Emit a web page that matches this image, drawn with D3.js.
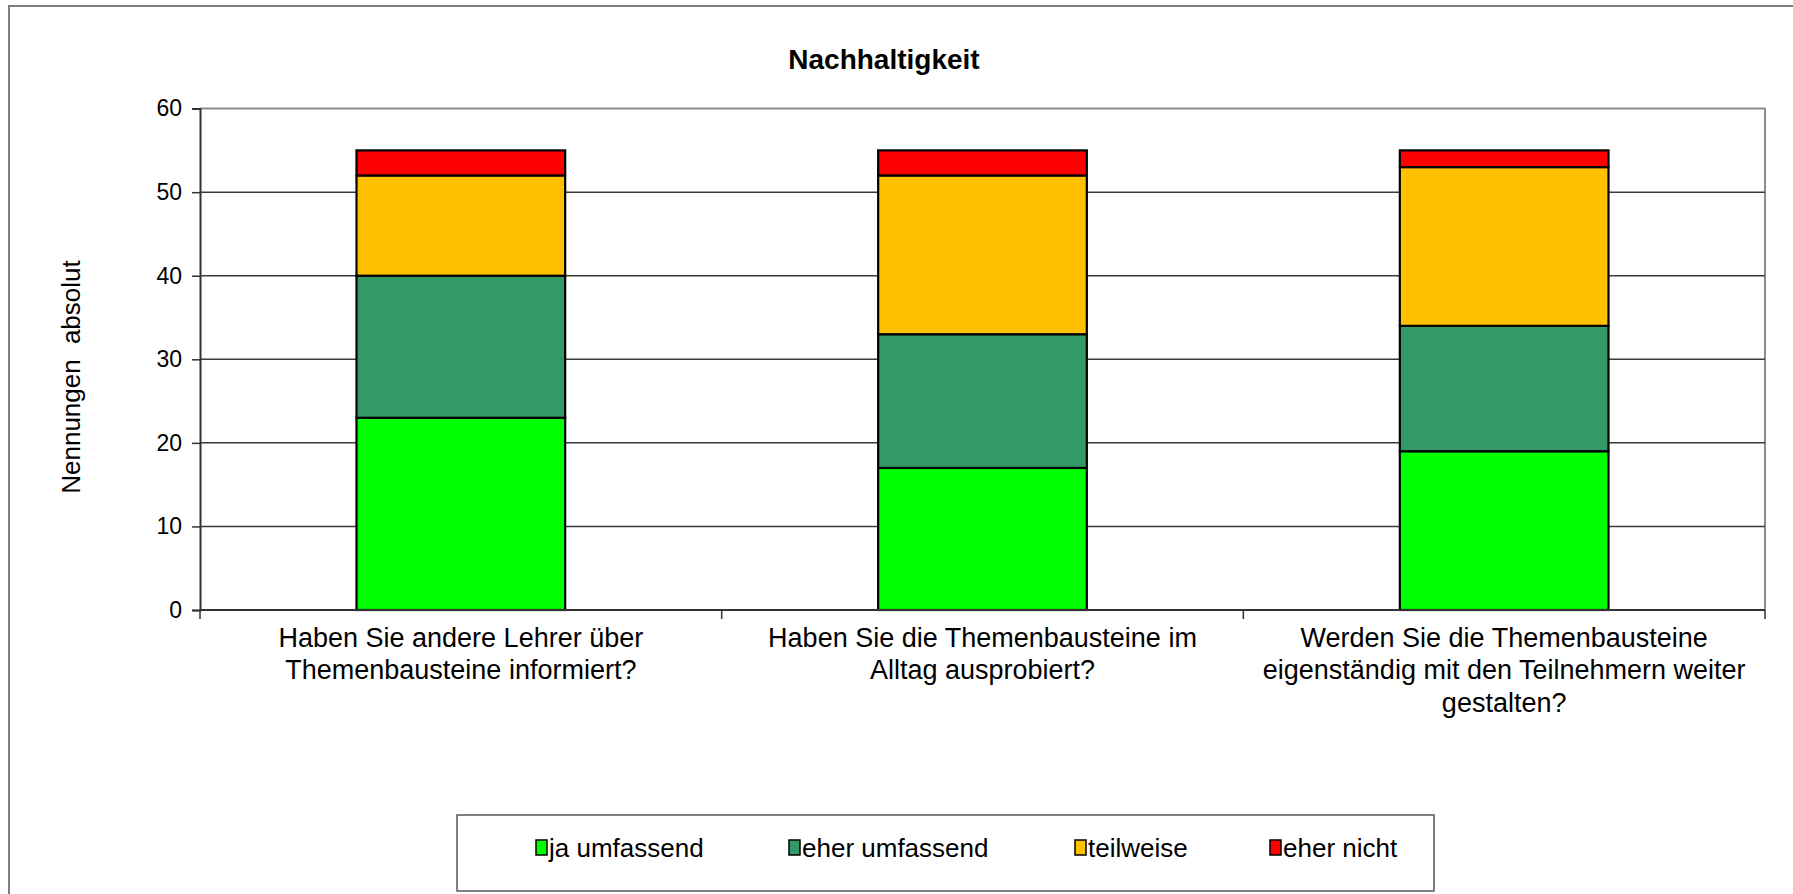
<!DOCTYPE html>
<html>
<head>
<meta charset="utf-8">
<script src="https://cdn.jsdelivr.net/npm/d3@7"></script>
<style>
  body { margin: 0; background: #fff; }
  svg { display: block; font-family: "Liberation Sans", Arial, sans-serif; }
</style>
</head>
<body>
<div id="chart"></div>
<script>
const categories = [
  "Haben Sie andere Lehrer über\nThemenbausteine informiert?",
  "Haben Sie die Themenbausteine im\nAlltag ausprobiert?",
  "Werden Sie die Themenbausteine\neigenständig mit den Teilnehmern weiter\ngestalten?"
];
const seriesNames = ["ja umfassend", "eher umfassend", "teilweise", "eher nicht"];
const jaUmfassend = [23, 17, 19];
const eherUmfassend = [17, 16, 15];
const teilweise = [12, 19, 19];
const eherNicht = [3, 3, 2];
const yTicks = [0, 10, 20, 30, 40, 50, 60];
const colors = ["#00ff00", "#339966", "#ffc000", "#ff0000"];

(() => {
  const W = 1793, H = 894;
  const margin = { top: 108.6, left: 200, right: 28, bottom: 284 };
  const width = W - margin.left - margin.right,
        height = H - margin.top - margin.bottom;

  const svg = d3.select("#chart").append("svg")
    .attr("width", W).attr("height", H);

  // outer frame
  svg.append("rect")
    .attr("x", 9).attr("y", 6)
    .attr("width", W + 10).attr("height", H + 10)
    .attr("fill", "none").attr("stroke", "#7f7f7f").attr("stroke-width", 2);

  svg.append("text")
    .attr("x", 884).attr("y", 69)
    .attr("text-anchor", "middle")
    .style("font-size", "28px").style("font-weight", "bold")
    .text("Nachhaltigkeit");

  const g = svg.append("g")
    .attr("transform", `translate(${margin.left},${margin.top})`);

  const x = d3.scaleBand().domain(categories).range([0, width]).paddingInner(0.6).paddingOuter(0.3);
  const y = d3.scaleLinear().domain([0, 60]).range([height, 0]);

  const rows = categories.map((c, i) => ({
    cat: c,
    "ja umfassend": jaUmfassend[i],
    "eher umfassend": eherUmfassend[i],
    "teilweise": teilweise[i],
    "eher nicht": eherNicht[i]
  }));
  const stacked = d3.stack().keys(seriesNames)(rows);

  // plot border (top & right)
  g.append("path")
    .attr("d", `M0,${y(60)}H${width}V${height}`)
    .attr("fill", "none").attr("stroke", "#8c8c8c").attr("stroke-width", 2);

  // gridlines
  g.selectAll(".grid").data(yTicks.filter(d => d > 0 && d < 60))
    .enter().append("line")
    .attr("x1", 0).attr("x2", width)
    .attr("y1", d => y(d)).attr("y2", d => y(d))
    .attr("stroke", "#3a3a3a").attr("stroke-width", 1.5);

  // bars
  g.selectAll(".layer").data(stacked).enter().append("g")
    .attr("fill", (d, i) => colors[i])
    .selectAll("rect").data(d => d).enter().append("rect")
    .attr("x", d => x(d.data.cat))
    .attr("width", x.bandwidth())
    .attr("y", d => y(d[1]))
    .attr("height", d => y(d[0]) - y(d[1]))
    .attr("stroke", "#000").attr("stroke-width", 2.2);

  // y axis
  const yAxis = g.append("g")
    .call(d3.axisLeft(y).tickValues(yTicks).tickSize(8).tickPadding(10));
  yAxis.select(".domain").attr("stroke", "#333").attr("stroke-width", 2);
  yAxis.selectAll(".tick line").attr("stroke", "#333").attr("stroke-width", 1.5);
  yAxis.selectAll(".tick text")
    .style("font-size", "23px").attr("fill", "#000")
    .style("font-family", "Liberation Sans, Arial, sans-serif");

  // x axis line and separators
  const xa = g.append("g").attr("transform", `translate(0,${height})`);
  xa.append("line").attr("x1", 0).attr("x2", width)
    .attr("stroke", "#333").attr("stroke-width", 2);
  xa.selectAll(".sep").data(d3.range(categories.length + 1)).enter().append("line")
    .attr("x1", i => i * width / categories.length)
    .attr("x2", i => i * width / categories.length)
    .attr("y1", 0).attr("y2", 9)
    .attr("stroke", "#333").attr("stroke-width", 1.5);

  // category labels
  const lbl = xa.selectAll(".cat").data(categories).enter().append("text")
    .attr("text-anchor", "middle")
    .attr("transform", d => `translate(${x(d) + x.bandwidth() / 2},36.5)`)
    .style("font-size", "27px");
  lbl.each(function (d) {
    d.split("\n").forEach((line, k) => {
      d3.select(this).append("tspan")
        .attr("x", 0).attr("y", k * 32.6)
        .text(line);
    });
  });

  // y axis label
  svg.append("text")
    .attr("transform", `translate(80,377) rotate(-90)`)
    .attr("text-anchor", "middle")
    .style("font-size", "26px").style("word-spacing", "8px")
    .text("Nennungen absolut");

  // legend
  const legend = svg.append("g");
  legend.append("rect")
    .attr("x", 457).attr("y", 815).attr("width", 977).attr("height", 76)
    .attr("fill", "#fff").attr("stroke", "#555").attr("stroke-width", 1.5);
  const legX = [536, 789, 1075, 1270];
  seriesNames.forEach((s, i) => {
    legend.append("rect")
      .attr("x", legX[i]).attr("y", 840)
      .attr("width", 11).attr("height", 15)
      .attr("fill", colors[i]).attr("stroke", "#000").attr("stroke-width", 1.5);
    legend.append("text")
      .attr("x", legX[i] + 13).attr("y", 857)
      .style("font-size", "26px")
      .text(s);
  });
})();
</script>
</body>
</html>
